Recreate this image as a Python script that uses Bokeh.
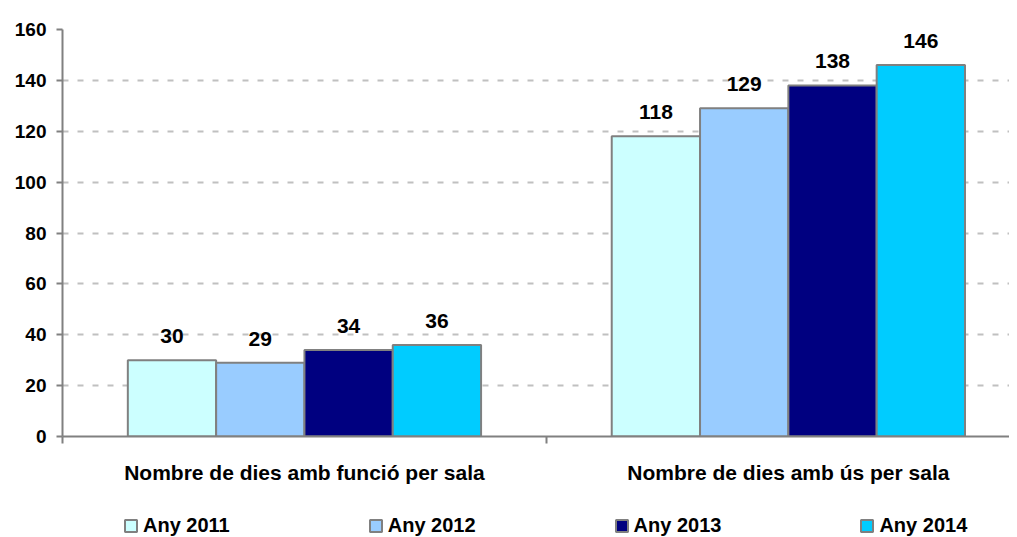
from bokeh.plotting import figure
from bokeh.layouts import column
from bokeh.models import Range1d, FixedTicker, Legend, LegendItem, ColumnDataSource
from bokeh.core.properties import value
from bokeh.embed import file_html
from bokeh.resources import INLINE

categories = ["Nombre de dies amb funció per sala", "Nombre de dies amb ús per sala"]
years = ["Any 2011", "Any 2012", "Any 2013", "Any 2014"]
values_2011 = [30, 118]
values_2012 = [29, 129]
values_2013 = [34, 138]
values_2014 = [36, 146]
series = [values_2011, values_2012, values_2013, values_2014]
colors = ["#CCFFFF", "#99CCFF", "#000080", "#00CCFF"]
y_ticks = [0, 20, 40, 60, 80, 100, 120, 140, 160]

FONT = "Liberation Sans"
GRAY = "#808080"

p = figure(width=1009, height=500, output_backend="svg", toolbar_location=None,
           x_range=Range1d(0, 1.957), y_range=Range1d(0, 160),
           min_border_left=62, min_border_right=0, min_border_top=29, min_border_bottom=64)
p.outline_line_color = None
p.xgrid.visible = False
p.ygrid.grid_line_color = "#C0C0C0"
p.ygrid.grid_line_width = 2
p.ygrid.grid_line_dash = "6 9"
p.yaxis.ticker = FixedTicker(ticks=y_ticks)

bar_w = 0.1825
n = len(series)
for i, (vals, col) in enumerate(zip(series, colors)):
    off = (i - (n - 1) / 2) * bar_w
    xs = [k + 0.5 + off for k in range(len(categories))]
    src = ColumnDataSource(dict(x=xs, top=vals, lab=[str(v) for v in vals]))
    p.vbar(x="x", top="top", width=bar_w, bottom=0, source=src,
           fill_color=col, line_color=GRAY, line_width=2)
    p.text(x="x", y="top", text="lab", source=src, text_align="center",
           text_baseline="bottom", y_offset=-17, text_font=value(FONT),
           text_font_style="bold", text_font_size="21px", text_color="black")

# axes
for ax in (p.xaxis[0], p.yaxis[0]):
    ax.axis_line_color = GRAY
    ax.axis_line_width = 2
    ax.major_tick_line_color = GRAY
    ax.major_tick_line_width = 2
    ax.minor_tick_line_color = GRAY
    ax.minor_tick_line_width = 2
    ax.major_label_text_font = FONT
    ax.major_label_text_font_style = "bold"
    ax.major_label_text_color = "black"

p.yaxis.major_tick_out = 6
p.yaxis.major_tick_in = 0
p.yaxis.minor_tick_out = 0
p.yaxis.minor_tick_in = 0
p.yaxis.major_label_text_font_size = "19px"
p.yaxis.major_label_standoff = 10

p.xaxis.ticker = FixedTicker(ticks=[0.5, 1.5], minor_ticks=[0, 1, 2])
p.xaxis.major_label_overrides = {0.5: categories[0], 1.5: categories[1]}
p.xaxis.major_tick_out = 0
p.xaxis.major_tick_in = 0
p.xaxis.minor_tick_out = 7
p.xaxis.minor_tick_in = 0
p.xaxis.major_label_text_font_size = "21px"
p.xaxis.major_label_standoff = 17

# legend strip (its frame is aligned with the chart's frame by the column layout)
p2 = figure(width=1009, height=37, output_backend="svg", toolbar_location=None,
            x_range=Range1d(0, 1), y_range=Range1d(0, 1),
            min_border_left=62, min_border_right=0, min_border_top=0, min_border_bottom=0)
p2.axis.visible = False
p2.grid.visible = False
p2.outline_line_color = None
# hidden proxy glyphs that only supply the legend swatches
leg_renderers = []
for c in colors:
    r = p2.vbar(x=[0.5], top=[1], width=0.1, fill_color=c, line_color=GRAY, line_width=2)
    r.visible = False
    leg_renderers.append(r)
items = [LegendItem(label=y, renderers=[r]) for y, r in zip(years, leg_renderers)]
legend = Legend(items=items, orientation="horizontal", location=(61, 0),
                glyph_width=15, glyph_height=15, label_standoff=5, spacing=138,
                padding=0, margin=0, border_line_color=None, background_fill_alpha=0,
                label_text_font=FONT, label_text_font_style="bold", label_text_color="black",
                label_text_font_size="20px", label_height=20)
p2.add_layout(legend, "center")

open("out.html", "w").write(file_html(column(p, p2), INLINE))
